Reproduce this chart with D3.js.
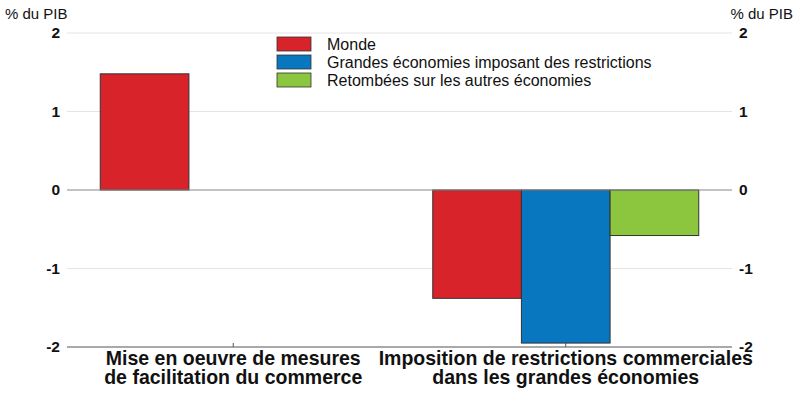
<!DOCTYPE html>
<html>
<head>
<meta charset="utf-8">
<script src="https://cdn.jsdelivr.net/npm/d3@7"></script>
<style>
  body { margin: 0; background: #fff; }
  svg { display: block; }
  text { font-family: "Liberation Sans", Arial, sans-serif; }
</style>
</head>
<body>
<div id="chart"></div>
<script>
// categories and series
var categories = [
  ["Mise en oeuvre de mesures", "de facilitation du commerce"],
  ["Imposition de restrictions commerciales", "dans les grandes économies"]
];
var seriesNames = ["Monde", "Grandes économies imposant des restrictions", "Retombées sur les autres économies"];
var monde = [1.48, -1.38];
var grandes = [null, -1.95];
var retombees = [null, -0.58];
var colors = ["#d9232a", "#0877c0", "#8cc63f"];
var yTicks = [-2, -1, 0, 1, 2];

var seriesValues = [monde, grandes, retombees];

var W = 800, H = 396;
var margin = { left: 67, right: 68, top: 33, bottom: 49 };
var width = W - margin.left - margin.right,
    height = H - margin.top - margin.bottom;

var svg = d3.select("#chart").append("svg")
    .attr("width", W)
    .attr("height", H);

var g = svg.append("g")
    .attr("transform", "translate(" + margin.left + "," + margin.top + ")");

var x0 = d3.scaleBand()
    .domain(d3.range(categories.length))
    .range([0, width])
    .paddingInner(0)
    .paddingOuter(0);

var groupW = x0.bandwidth() * 0.8;
var x1 = d3.scaleBand()
    .domain(d3.range(seriesNames.length))
    .range([0, groupW]);

var y = d3.scaleLinear()
    .domain([-2, 2])
    .range([height, 0]);

// grid lines
g.append("g").selectAll("line")
  .data(yTicks.filter(function(d){ return d !== 0 && d !== -2; }))
  .enter().append("line")
    .attr("x1", 0).attr("x2", width)
    .attr("y1", function(d){ return y(d); })
    .attr("y2", function(d){ return y(d); })
    .attr("stroke", "#e4e4e4")
    .attr("stroke-width", 1);

// left and right tick labels
var yl = g.append("g").attr("font-size", 15.5).attr("font-weight", "bold").attr("fill", "#111");
yl.selectAll("text.l").data(yTicks).enter().append("text")
    .attr("class", "l")
    .attr("x", -7)
    .attr("y", function(d){ return y(d); })
    .attr("dy", "0.35em")
    .attr("text-anchor", "end")
    .text(function(d){ return d; });
yl.selectAll("text.r").data(yTicks).enter().append("text")
    .attr("class", "r")
    .attr("x", width + 7)
    .attr("y", function(d){ return y(d); })
    .attr("dy", "0.35em")
    .attr("text-anchor", "start")
    .text(function(d){ return d; });

svg.append("text")
    .attr("x", 5).attr("y", 19)
    .attr("font-size", 15)
    .attr("fill", "#111")
    .text("% du PIB");
svg.append("text")
    .attr("x", 793).attr("y", 19)
    .attr("font-size", 15)
    .attr("text-anchor", "end")
    .attr("fill", "#111")
    .text("% du PIB");

// bars
var groups = g.append("g").selectAll("g")
  .data(seriesNames.map(function(name, i){ return { i: i, values: seriesValues[i] }; }))
  .enter().append("g")
    .attr("fill", function(d){ return colors[d.i]; });

groups.selectAll("rect")
  .data(function(d){
    return d.values.map(function(v, c){ return { s: d.i, c: c, v: v }; })
      .filter(function(e){ return e.v !== null; });
  })
  .enter().append("rect")
    .attr("x", function(d){ return x0(d.c) + (x0.bandwidth() - groupW) / 2 + x1(d.s); })
    .attr("width", x1.bandwidth())
    .attr("y", function(d){ return y(Math.max(0, d.v)); })
    .attr("height", function(d){ return Math.abs(y(d.v) - y(0)); })
    .attr("stroke", "#333")
    .attr("stroke-width", 1);

// zero line
g.append("line")
    .attr("x1", 0).attr("x2", width)
    .attr("y1", y(0)).attr("y2", y(0))
    .attr("stroke", "#888")
    .attr("stroke-width", 1.2);

// bottom axis
g.append("line")
    .attr("x1", 0).attr("x2", width)
    .attr("y1", y(-2)).attr("y2", y(-2))
    .attr("stroke", "#555")
    .attr("stroke-width", 1.2);
g.append("g").selectAll("line")
  .data(d3.range(categories.length))
  .enter().append("line")
    .attr("x1", function(d){ return x0(d) + x0.bandwidth() / 2; })
    .attr("x2", function(d){ return x0(d) + x0.bandwidth() / 2; })
    .attr("y1", y(-2)).attr("y2", y(-2) - 4)
    .attr("stroke", "#555");

// category labels (one text per line)
var catLab = g.append("g")
    .attr("font-size", 21)
    .attr("font-weight", "bold")
    .attr("text-anchor", "middle")
    .attr("fill", "#111");
categories.forEach(function(lines, c){
  lines.forEach(function(line, k){
    catLab.append("text")
      .attr("transform", "translate(" + (x0(c) + x0.bandwidth() / 2) + "," + (height + 18 + k * 19) + ") scale(0.93,1)")
      .text(line);
  });
});

// legend
var legend = svg.append("g")
    .attr("transform", "translate(277,37)");
legend.append("rect")
    .attr("x", -6).attr("y", -3)
    .attr("width", 400).attr("height", 55)
    .attr("fill", "#fff");
var li = legend.selectAll("g.item")
  .data(seriesNames)
  .enter().append("g")
    .attr("class", "item")
    .attr("transform", function(d, i){ return "translate(0," + i * 18 + ")"; });
li.append("rect")
    .attr("width", 34).attr("height", 14)
    .attr("fill", function(d, i){ return colors[i]; })
    .attr("stroke", "#333")
    .attr("stroke-width", 0.8);
li.append("text")
    .attr("x", 50).attr("y", 7)
    .attr("dy", "0.35em")
    .attr("font-size", 16)
    .attr("fill", "#111")
    .text(function(d){ return d; });
</script>
</body>
</html>
